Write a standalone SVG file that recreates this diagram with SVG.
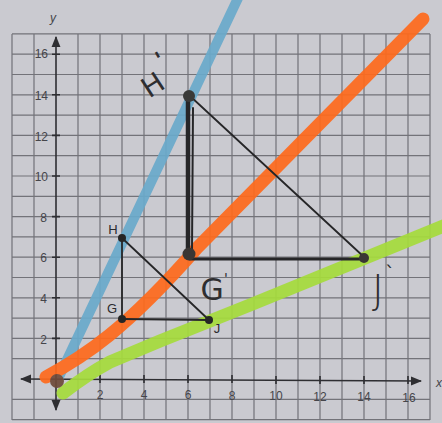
<svg xmlns="http://www.w3.org/2000/svg" width="442" height="423" viewBox="0 0 442 423">
<defs>
<style>
.grid{stroke:#5c5c63;stroke-width:1.2;fill:none;opacity:0.8}
.axis{stroke:#2e2e32;stroke-width:1.6;fill:none}
.tick{font-family:"Liberation Sans",Arial,sans-serif;font-size:12px;fill:#45454a}
.lbl{font-family:"Liberation Sans",Arial,sans-serif;font-size:13px;fill:#2a2a2e}
.hand{font-family:"DejaVu Sans",sans-serif;fill:#2e2e30}
.hl{fill:none;stroke-linecap:round;stroke-linejoin:round}
.edge{stroke:#262628;fill:none;stroke-linecap:round}
.pt{fill:#262626}
</style>
<marker id="ah" viewBox="0 0 10 10" refX="9" refY="5" markerWidth="7" markerHeight="7" orient="auto-start-reverse"><path d="M0,1 L10,5 L0,9 Z" fill="#2e2e32"/></marker>
</defs>
<rect width="442" height="423" fill="#cacad0"/>
<g id="grid">
<path class="grid" d="M12,34V420M34,34V420M78,34V420M100,34V420M122,34V420M144,34V420M166,34V420M188,34V420M210,34V420M232,34V420M254,34V420M276,34V420M298,34V420M320,34V420M342,34V420M364,34V420M386,34V420M408,34V420M430,34V420
M12,419.6H430M12,399.3H430M12,358.7H430M12,338.4H430M12,318.1H430M12,297.8H430M12,277.5H430M12,257.2H430M12,236.9H430M12,216.6H430M12,196.3H430M12,176H430M12,155.7H430M12,135.4H430M12,115.1H430M12,94.8H430M12,74.5H430M12,54.2H430M12,33.9H430"/>
</g>
<g id="axes">
<line class="axis" x1="56" y1="410" x2="56" y2="37" marker-start="url(#ah)" marker-end="url(#ah)"/>
<line class="axis" x1="21" y1="379" x2="421" y2="381" marker-start="url(#ah)" marker-end="url(#ah)"/>
<path class="axis" d="M52,54.2H60M52,94.8H60M52,135.4H60M52,176H60M52,216.6H60M52,257.2H60M52,297.8H60M52,338.4H60M100,375V383M144,375V383M188,375V383M232,375V383M276,376V384M320,376V384M364,376V384M408,376V384"/>
<text class="tick" x="53" y="22" font-style="italic" font-size="14" text-anchor="middle">y</text>
<text class="tick" x="436" y="387" font-style="italic" font-size="14">x</text>
<g text-anchor="end">
<text class="tick" x="48" y="58">16</text>
<text class="tick" x="48" y="100">14</text>
<text class="tick" x="48" y="141">12</text>
<text class="tick" x="48" y="181">10</text>
<text class="tick" x="47" y="222">8</text>
<text class="tick" x="47" y="262">6</text>
<text class="tick" x="47" y="303">4</text>
<text class="tick" x="47" y="344">2</text>
</g>
<g text-anchor="middle">
<text class="tick" x="100" y="399">2</text>
<text class="tick" x="144" y="399">4</text>
<text class="tick" x="188" y="399">6</text>
<text class="tick" x="232" y="400">8</text>
<text class="tick" x="276" y="400">10</text>
<text class="tick" x="320" y="401">12</text>
<text class="tick" x="364" y="401">14</text>
<text class="tick" x="409" y="402">16</text>
</g>
</g>
<g id="highlights" opacity="0.92">
<path class="hl" stroke="#6aaacb" stroke-width="10" d="M57,381 L239,-4"/>
<path class="hl" stroke="#a6dc3c" stroke-width="13" d="M63,393 C80,380 95,370 110,362 L160,341 L250,305 L446,225"/>
<path class="hl" stroke="#ff6a1c" stroke-width="13" d="M46,377 C85,356 125,330 197,248 L423,19"/>
<circle cx="57" cy="381" r="7" fill="#6e4a3a"/>
</g>
<g id="connectors">
<line class="edge" x1="122" y1="238" x2="122" y2="319" stroke-width="1.8"/>
<line class="edge" x1="122" y1="238" x2="209" y2="320" stroke-width="1.8"/>
<line class="edge" x1="122" y1="319" x2="209" y2="320" stroke-width="1.8"/>
<line class="edge" x1="188" y1="95" x2="188" y2="255" stroke-width="4.5" stroke="#3a3634"/>
<line class="edge" x1="193" y1="108" x2="192" y2="250" stroke-width="2" stroke="#3a3634"/>
<line class="edge" x1="190" y1="259" x2="364" y2="259" stroke-width="3.2" stroke="#444042"/>
<line class="edge" x1="190" y1="96" x2="364" y2="257" stroke-width="1.8"/>
</g>
<g id="node-H">
<circle class="pt" cx="122" cy="238" r="4"/>
<text class="lbl" x="113" y="234" text-anchor="middle">H</text>
</g>
<g id="node-G">
<circle class="pt" cx="122" cy="319" r="4"/>
<text class="lbl" x="112" y="313" text-anchor="middle">G</text>
</g>
<g id="node-J">
<circle class="pt" cx="209" cy="320" r="4"/>
<text class="lbl" x="217" y="333" text-anchor="middle">J</text>
</g>
<g id="node-H-prime">
<circle cx="189" cy="96" r="6" fill="#3a3a38"/>
<text class="hand" x="0" y="0" font-size="28" text-anchor="middle" transform="translate(158,93) rotate(-33)">H</text>
<text class="hand" x="0" y="0" font-size="22" font-weight="bold" text-anchor="middle" transform="translate(164,66) rotate(-30)">'</text>
</g>
<g id="node-G-prime">
<circle cx="189" cy="254" r="6.5" fill="#3a3634"/>
<text class="hand" x="212" y="300" font-size="30" text-anchor="middle">G</text>
<text class="hand" x="224" y="283" font-size="14">'</text>
</g>
<g id="node-J-prime">
<circle cx="364" cy="258" r="5" fill="#3a3634"/>
<text class="hand" x="378" y="304" font-size="40" font-weight="300" text-anchor="middle">J</text>
<text class="hand" x="390" y="280" font-size="20" text-anchor="middle">`</text>
</g>
</svg>
